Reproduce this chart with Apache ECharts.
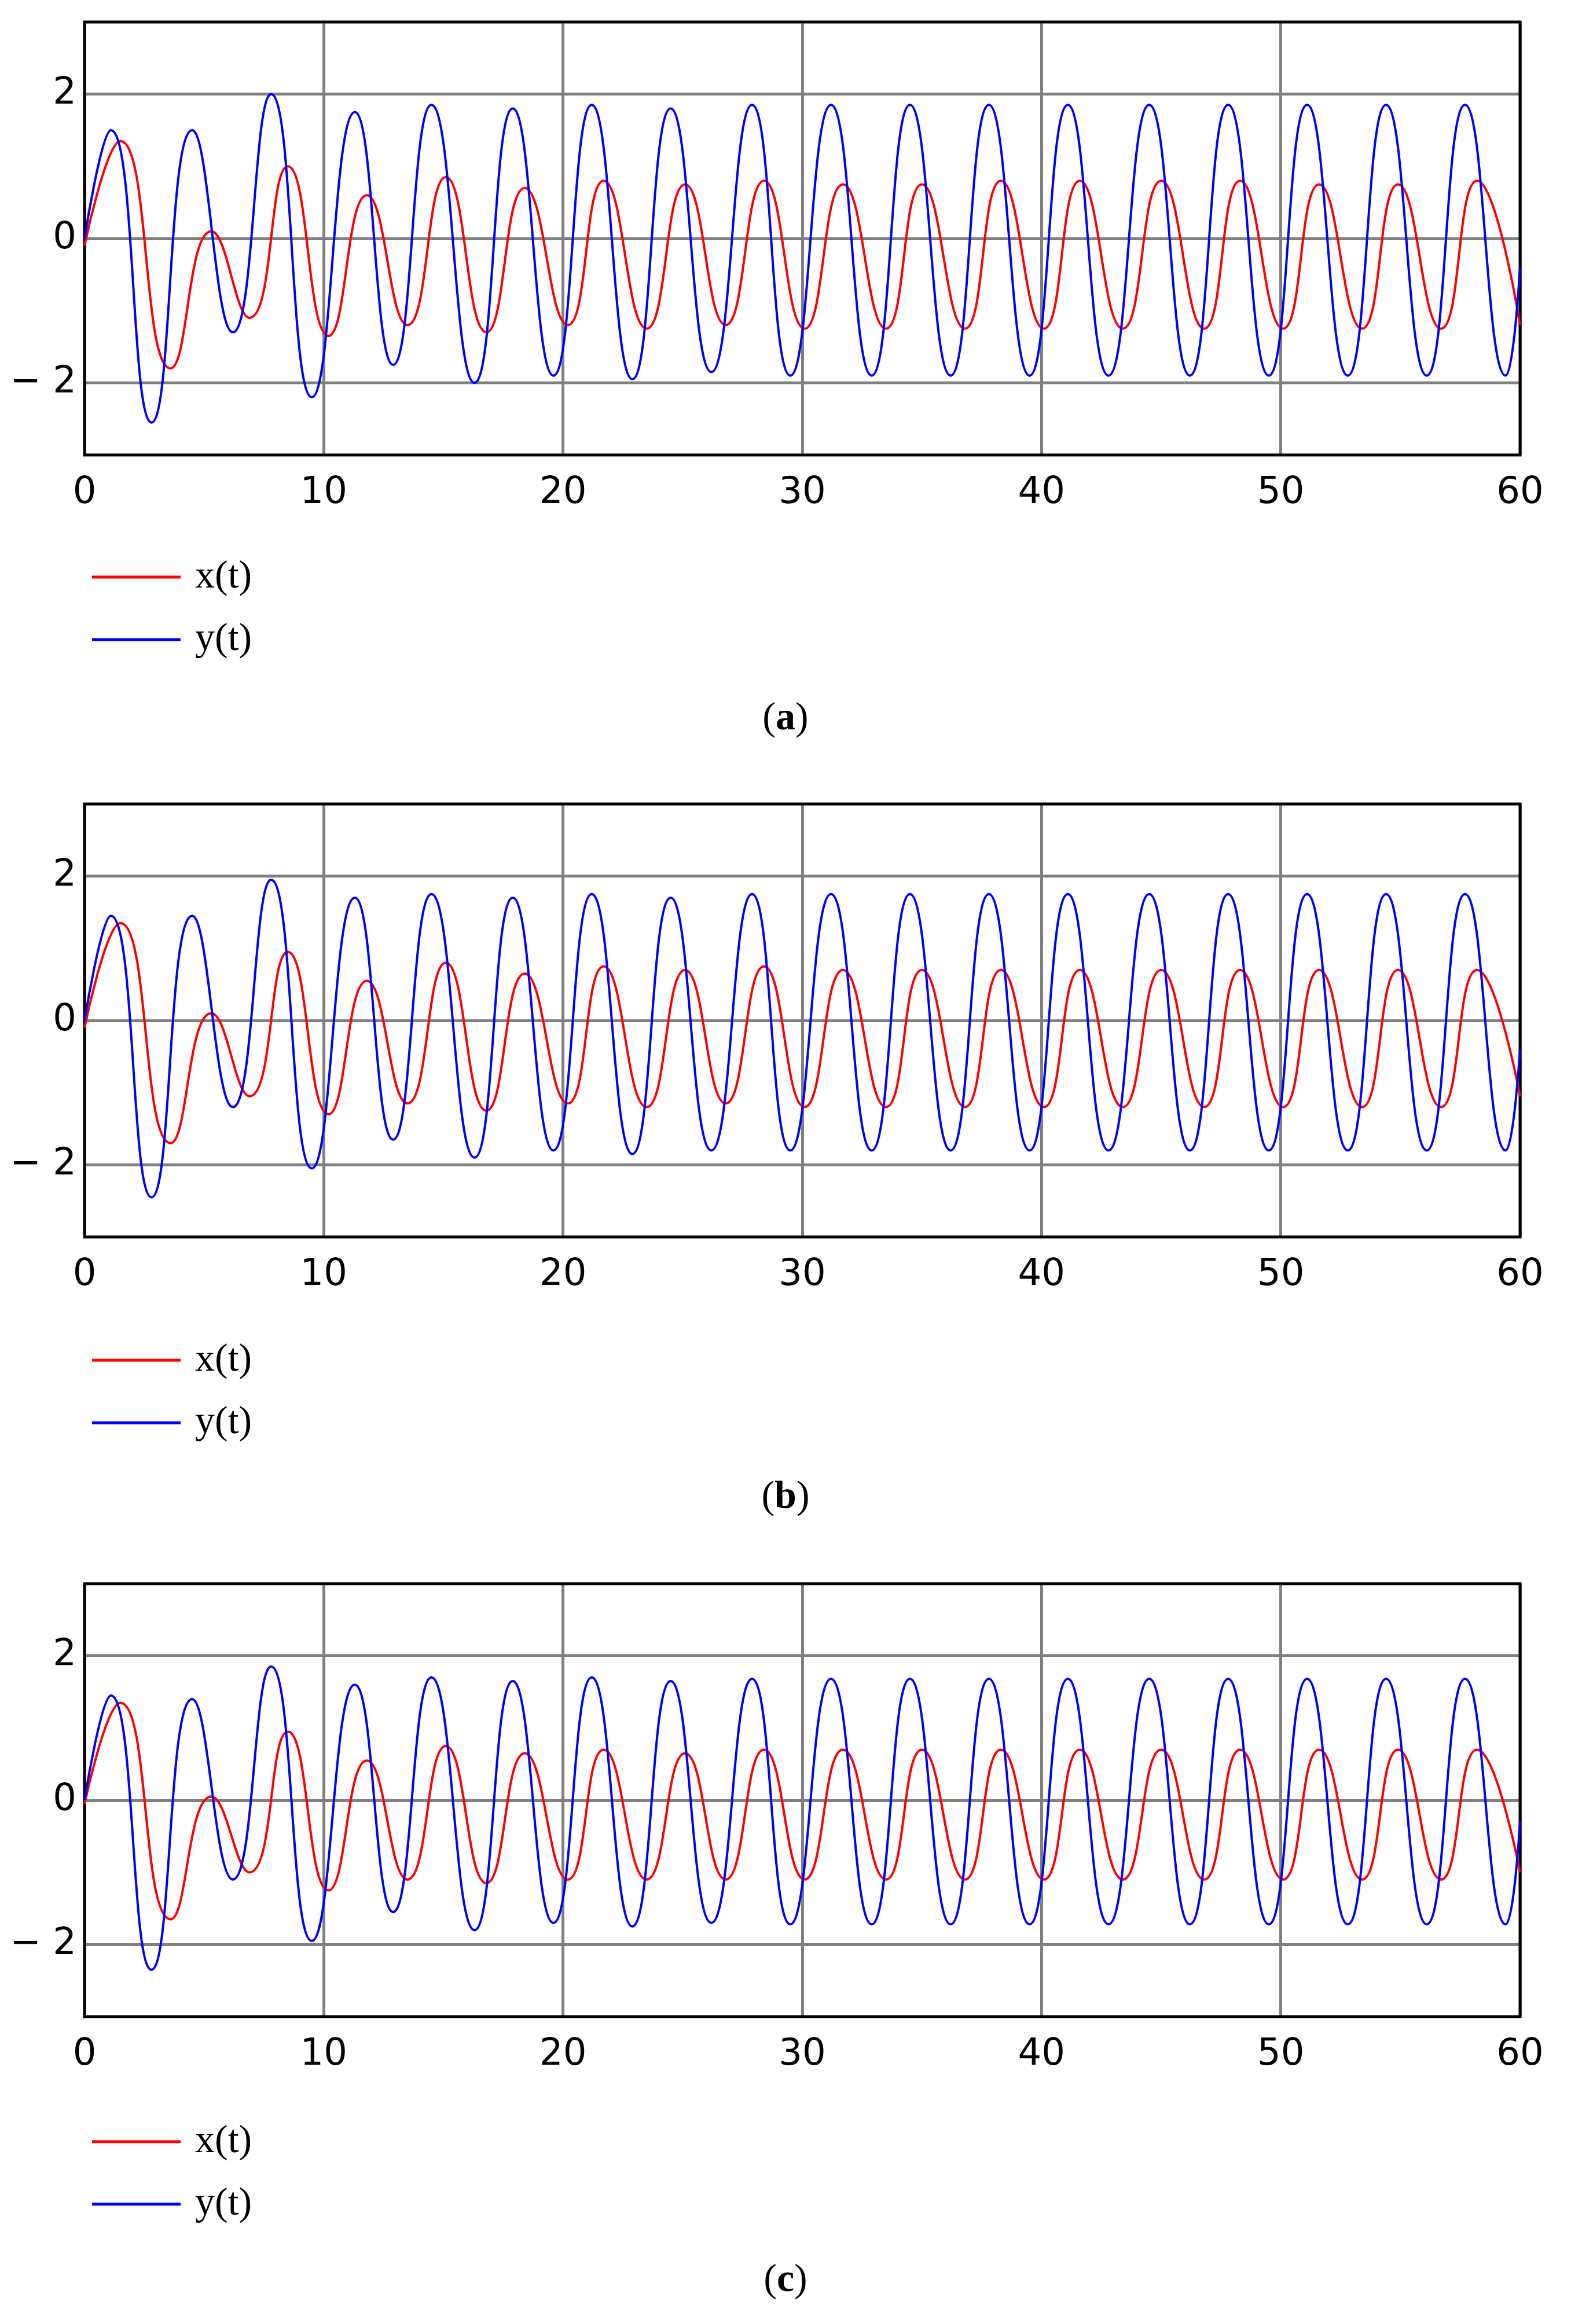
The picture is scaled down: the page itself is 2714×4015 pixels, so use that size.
<!DOCTYPE html>
<html><head><meta charset="utf-8">
<script src="https://cdn.jsdelivr.net/npm/echarts@6/dist/echarts.min.js"></script>
<style>html,body{margin:0;padding:0;background:#fff}#c{width:2714px;height:4015px}</style>
</head><body><div id="c"></div>
<script>
// times of extrema (shared by panels)
var blueT = [0,1.1,2.8,4.5,6.2,7.8,9.5,11.3,12.9,14.5,16.3,17.9,19.6,21.2,22.9,24.5,26.2,27.9,29.5,31.2,32.9,34.5,36.2,37.8,39.5,41.1,42.8,44.5,46.2,47.8,49.5,51.1,52.8,54.4,56.1,57.7,59.4,60];
var redT = [0,1.5,3.6,5.3,6.9,8.5,10.2,11.8,13.5,15.1,16.8,18.4,20.2,21.7,23.5,25.1,26.8,28.4,30.1,31.7,33.5,35.0,36.8,38.3,40.1,41.6,43.4,45.0,46.8,48.3,50.1,51.6,53.4,54.9,56.7,58.2,60];
// panel (a)
var yA = [0,1.5,-2.55,1.5,-1.3,2.0,-2.2,1.75,-1.75,1.85,-2.0,1.8,-1.9,1.85,-1.95,1.8,-1.85,1.85,-1.9,1.85,-1.9,1.85,-1.9,1.85,-1.9,1.85,-1.9,1.85,-1.9,1.85,-1.9,1.85,-1.9,1.85,-1.9,1.85,-1.9,-0.4];
var xA = [-0.1,1.35,-1.8,0.1,-1.1,1.0,-1.35,0.6,-1.2,0.85,-1.3,0.7,-1.2,0.8,-1.25,0.75,-1.2,0.8,-1.25,0.75,-1.25,0.75,-1.25,0.8,-1.25,0.8,-1.25,0.8,-1.25,0.8,-1.25,0.75,-1.25,0.75,-1.25,0.8,-1.2];
// panel (b)
var yB = [0,1.45,-2.45,1.45,-1.2,1.95,-2.05,1.7,-1.65,1.75,-1.9,1.7,-1.8,1.75,-1.85,1.7,-1.8,1.75,-1.8,1.75,-1.8,1.75,-1.8,1.75,-1.8,1.75,-1.8,1.75,-1.8,1.75,-1.8,1.75,-1.8,1.75,-1.8,1.75,-1.8,-0.4];
var xB = [-0.1,1.35,-1.7,0.1,-1.05,0.95,-1.3,0.55,-1.15,0.8,-1.25,0.65,-1.15,0.75,-1.2,0.7,-1.15,0.75,-1.2,0.7,-1.2,0.7,-1.2,0.7,-1.2,0.7,-1.2,0.7,-1.2,0.7,-1.2,0.7,-1.2,0.7,-1.2,0.7,-1.05];
// panel (c)
var yC = [0,1.45,-2.35,1.4,-1.1,1.85,-1.95,1.6,-1.55,1.7,-1.8,1.65,-1.7,1.7,-1.75,1.65,-1.7,1.68,-1.72,1.68,-1.72,1.68,-1.72,1.68,-1.72,1.68,-1.72,1.68,-1.72,1.68,-1.72,1.68,-1.72,1.68,-1.72,1.68,-1.72,-0.3];
var xC = [-0.05,1.35,-1.65,0.05,-1.0,0.95,-1.25,0.55,-1.1,0.75,-1.15,0.65,-1.1,0.7,-1.1,0.65,-1.1,0.7,-1.1,0.7,-1.1,0.7,-1.1,0.7,-1.1,0.7,-1.1,0.7,-1.1,0.7,-1.1,0.7,-1.1,0.7,-1.1,0.7,-1.0];
var xTicks = [0,10,20,30,40,50,60];
var captions = ['a','b','c'];

function zip(t,v){return t.map(function(x,i){return [x,v[i]];});}
var panels = [[xA,yA],[xB,yB],[xC,yC]];
var tops = [38,1389,2736], H = 748;
var legTops = [958,2311,3661], capY = [1248,2593,3946];
var grid=[],xAxis=[],yAxis=[],series=[],legend=[],graphic=[];
panels.forEach(function(p,i){
  grid.push({left:146,top:tops[i],width:2480,height:H,show:true,borderColor:'#000',borderWidth:5,backgroundColor:'transparent',z:3});
  xAxis.push({type:'value',gridIndex:i,min:xTicks[0],max:xTicks[xTicks.length-1],interval:10,
    axisLine:{show:false},axisTick:{show:false},
    axisLabel:{color:'#000',fontSize:64,fontFamily:'DejaVu Sans',margin:34},
    splitLine:{show:true,lineStyle:{color:'#808080',width:5}}});
  yAxis.push({type:'value',gridIndex:i,min:-3,max:3,interval:1,
    axisLine:{show:false},axisTick:{show:false},
    axisLabel:{color:'#000',fontSize:64,fontFamily:'DejaVu Sans',margin:14,
      formatter:function(v){return v%2===0?(v<0?'\u2212 2':String(v)):'';}},
    splitLine:{show:true,lineStyle:{color:['rgba(0,0,0,0)','#808080'],width:5}}});
  series.push({name:'x(t)',type:'line',xAxisIndex:i,yAxisIndex:i,data:zip(redT,p[0]),smooth:0.5,showSymbol:false,lineStyle:{color:'#ff0000',width:4},itemStyle:{color:'#ff0000'},z:4});
  series.push({name:'y(t)',type:'line',xAxisIndex:i,yAxisIndex:i,data:zip(blueT,p[1]),smooth:0.5,showSymbol:false,lineStyle:{color:'#0000ff',width:4},itemStyle:{color:'#0000ff'},z:5});
  legend.push({orient:'vertical',left:154,top:legTops[i],itemWidth:153,itemHeight:5,itemGap:40,icon:'rect',
    data:['x(t)','y(t)'],textStyle:{fontSize:68,fontFamily:'Liberation Serif',color:'#000',padding:[0,0,0,20]},selectedMode:false});
  graphic.push({type:'text',left:'center',top:capY[i]-40,style:{text:'({b|'+captions[i]+'})',
    font:'68px "Liberation Serif"',fill:'#000',rich:{b:{fontWeight:'bold',fontSize:68,fontFamily:'Liberation Serif'}}}});
});
var chart = echarts.init(document.getElementById('c'));
chart.setOption({backgroundColor:'#fff',animation:false,grid:grid,xAxis:xAxis,yAxis:yAxis,series:series,legend:legend,graphic:graphic});
</script></body></html>
